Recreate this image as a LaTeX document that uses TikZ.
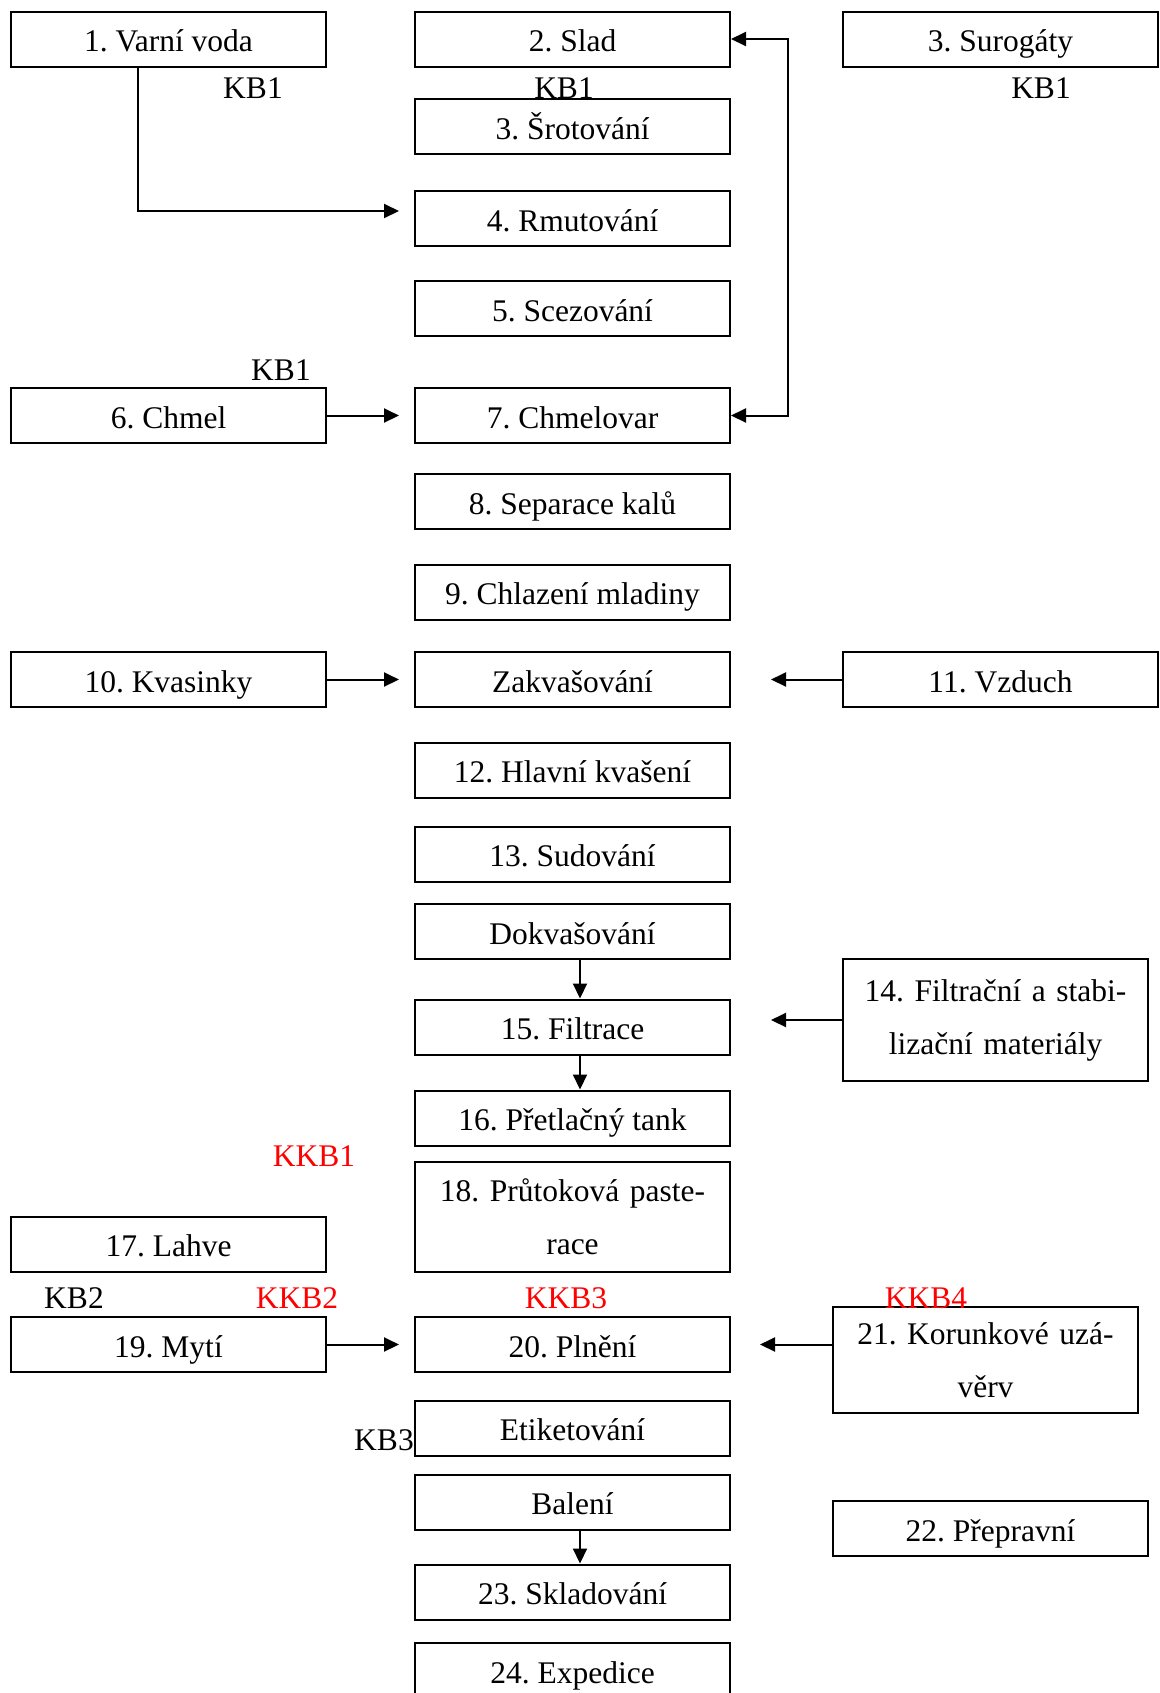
\documentclass[tikz,border=0pt]{standalone}
\usepackage{fontspec}
\setmainfont{Liberation Serif}
\frenchspacing
\usetikzlibrary{arrows.meta,calc}
\tikzset{
  stepbox/.style={draw, line width=1pt, minimum width=157.5pt, minimum height=27.5pt, inner sep=0pt, text height=15pt, text depth=2.3pt},
  widebox/.style={draw, line width=1pt, minimum width=152.5pt, inner sep=0pt, text width=150pt, align=center},
  kblabel/.style={inner sep=0pt},
  kkblabel/.style={inner sep=0pt, text=red},
  flow/.style={line width=1pt, -{Triangle[length=7.5pt,width=7pt]}}
}
\begin{document}
\begin{tikzpicture}[x=0.5pt,y=-0.5pt,font=\fontsize{15.75}{26.5}\selectfont]
      \useasboundingbox (0,0) rectangle (1160,1693);
      \node[stepbox] (voda) at (168.5,39) {1. Varní voda};
      \node[stepbox] (slad) at (572.5,39) {2. Slad};
      \node[stepbox] (surog) at (1000.5,39) {3. Surogáty};
      \node[kblabel] (kbvoda) at (253,88) {KB1};
      \node[kblabel] (kbslad) at (564,88) {KB1};
      \node[kblabel] (kbsurog) at (1041,88) {KB1};
      \node[stepbox] (srot) at (572.5,126.5) {3. Šrotování};
      \node[stepbox] (rmut) at (572.5,218.5) {4. Rmutování};
      \node[stepbox] (scez) at (572.5,308.5) {5. Scezování};
      \node[kblabel] (kbchmel) at (281,370) {KB1};
      \node[stepbox] (chmel) at (168.5,415.5) {6. Chmel};
      \node[stepbox] (chvar) at (572.5,415.5) {7. Chmelovar};
      \node[stepbox] (separ) at (572.5,501.5) {8. Separace kalů};
      \node[stepbox] (chlaz) at (572.5,592) {9. Chlazení mladiny};
      \node[stepbox] (kvas) at (168.5,679.5) {10. Kvasinky};
      \node[stepbox] (zakv) at (572.5,679.5) {Zakvašování};
      \node[stepbox] (vzduch) at (1000.5,679.5) {11. Vzduch};
      \node[stepbox] (hlavni) at (572.5,770) {12. Hlavní kvašení};
      \node[stepbox] (sudov) at (572.5,854) {13. Sudování};
      \node[stepbox] (dokv) at (572.5,931.5) {Dokvašování};
      \node[stepbox] (filtr) at (572.5,1027) {15. Filtrace};
      \node[widebox, minimum height=61pt] (filtmat) at (995.5,1020) {14. Filtrační a stabi-\\lizační materiály};
      \node[stepbox] (pretl) at (572.5,1118) {16. Přetlačný tank};
      \node[kkblabel] (kkbpast) at (314,1156) {KKB1};
      \node[widebox, minimum width=157.5pt, minimum height=55pt] (paster) at (572.5,1217) {18. Průtoková paste-\\race};
      \node[stepbox] (lahve) at (168.5,1244) {17. Lahve};
      \node[kblabel] (kbmyti) at (74,1298) {KB2};
      \node[kkblabel] (kkbmyti) at (297,1298) {KKB2};
      \node[kkblabel] (kkbplneni) at (566,1298) {KKB3};
      \node[stepbox] (myti) at (168.5,1344.5) {19. Mytí};
      \node[stepbox] (plneni) at (572.5,1344.5) {20. Plnění};
      \node[widebox, minimum height=53pt] (koruk) at (985.5,1360) {21. Korunkové uzá-\\věrv};
      \node[kkblabel] (kkbkoruk) at (926,1298) {KKB4};
      \node[stepbox] (etik) at (572.5,1428) {Etiketování};
      \node[kblabel] (kbetik) at (384,1440) {KB3};
      \node[stepbox] (baleni) at (572.5,1502) {Balení};
      \node[stepbox] (prepr) at (990.5,1528.5) {22. Přepravní};
      \node[stepbox] (sklad) at (572.5,1592) {23. Skladování};
      \node[stepbox] (exped) at (572.5,1670.5) {24. Expedice};
      \draw[flow] ($(voda.south west)+(128,0)$) |- ($(rmut.west)+(-15,-7.5)$);
      \draw[flow, shorten >=7.5pt] (chmel) -- (chvar);
      \draw[line width=1pt, {Triangle[length=7.5pt,width=7pt]}-{Triangle[length=7.5pt,width=7pt]}] (slad.east) -- ++(57,0) |- (chvar.east);
      \draw[flow, shorten >=7.5pt] (kvas) -- (zakv);
      \draw[flow, shorten >=20pt] (vzduch) -- (zakv);
      \draw[flow] ([xshift=3.75pt]dokv.south) -- ([xshift=3.75pt]filtr.north);
      \draw[flow] ([xshift=3.75pt]filtr.south) -- ([xshift=3.75pt]pretl.north);
      \draw[flow, shorten >=20pt] (filtmat.west) -- (filtmat.west -| filtr.east);
      \draw[flow, shorten >=7.5pt] (myti) -- (plneni);
      \draw[flow, shorten >=14.5pt] (koruk.west |- plneni.east) -- (plneni.east);
      \draw[flow] ([xshift=3.75pt]baleni.south) -- ([xshift=3.75pt]sklad.north);
    \end{tikzpicture}
\end{document}
